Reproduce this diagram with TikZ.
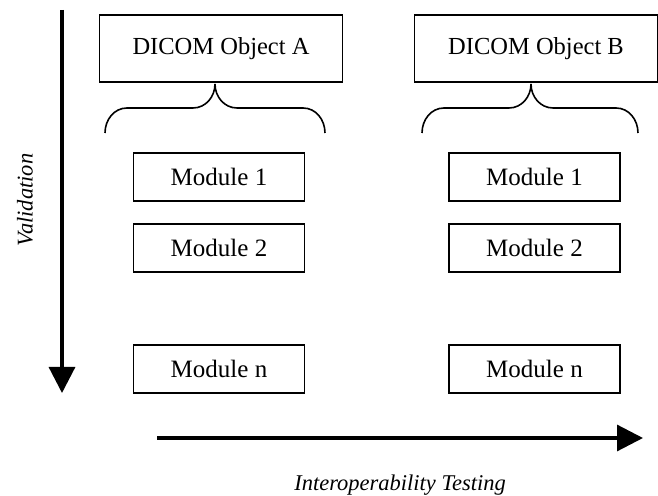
\documentclass[tikz,border=0pt]{standalone}
\usepackage{fontspec}
\setmainfont{Liberation Serif}
\usetikzlibrary{arrows.meta}

\begin{document}
\begin{tikzpicture}[
        x=1pt,y=1pt,
        object/.style={draw,line width=1.6pt,minimum width=243pt,minimum height=67pt,font=\fontsize{24.5}{28}\selectfont},
        module/.style={draw,line width=1.6pt,minimum width=171pt,minimum height=48pt,font=\fontsize{25}{28}\selectfont},
        brace/.style={line width=1.6pt},
        axis/.style={line width=3.2pt,-{Triangle[width=26pt,length=26pt]}},
        axislabel/.style={font=\fontsize{22.5}{26}\selectfont\itshape}
    ]
        \useasboundingbox (0,0) rectangle (658,495);

        % Define the nodes
        \node[object] (objA) at (221,446.5) {DICOM Object A};
        \node[object] (objB) at (536,446.5) {DICOM Object B};

        \node[module] (modA1) at (219,318) {Module 1};
        \node[module] (modA2) at (219,247) {Module 2};
        \node[module] (modAn) at (219,126) {Module n};
        \node[module] (modB1) at (534.5,318) {Module 1};
        \node[module] (modB2) at (534.5,247) {Module 2};
        \node[module] (modBn) at (534.5,126) {Module n};

        \coordinate (braceA) at (215,411);
        \coordinate (braceB) at (531,411);

        % Braces under the objects
        \draw[brace] (braceA) to[out=-90,in=0] ++(-22,-24) -- ++(-66,0) to[out=180,in=90] ++(-22,-25);
        \draw[brace] (braceA) to[out=-90,in=180] ++(22,-24) -- ++(66,0) to[out=0,in=90] ++(22,-25);
        \draw[brace] (braceB) to[out=-90,in=0] ++(-22,-24) -- ++(-65,0) to[out=180,in=90] ++(-22,-25);
        \draw[brace] (braceB) to[out=-90,in=180] ++(22,-24) -- ++(63,0) to[out=0,in=90] ++(22,-25);

        % Axes
        \coordinate (vtop) at (62,485);
        \coordinate (vend) at (62,102);
        \coordinate (hstart) at (157,57);
        \coordinate (hend) at (643,57);
        \draw[axis] (vtop) -- (vend);
        \draw[axis] (hstart) -- (hend);

        \node[axislabel,rotate=90] (valid) at (25,295) {Validation};
        \node[axislabel] (interop) at (400,10) {Interoperability Testing};
    \end{tikzpicture}
\end{document}
